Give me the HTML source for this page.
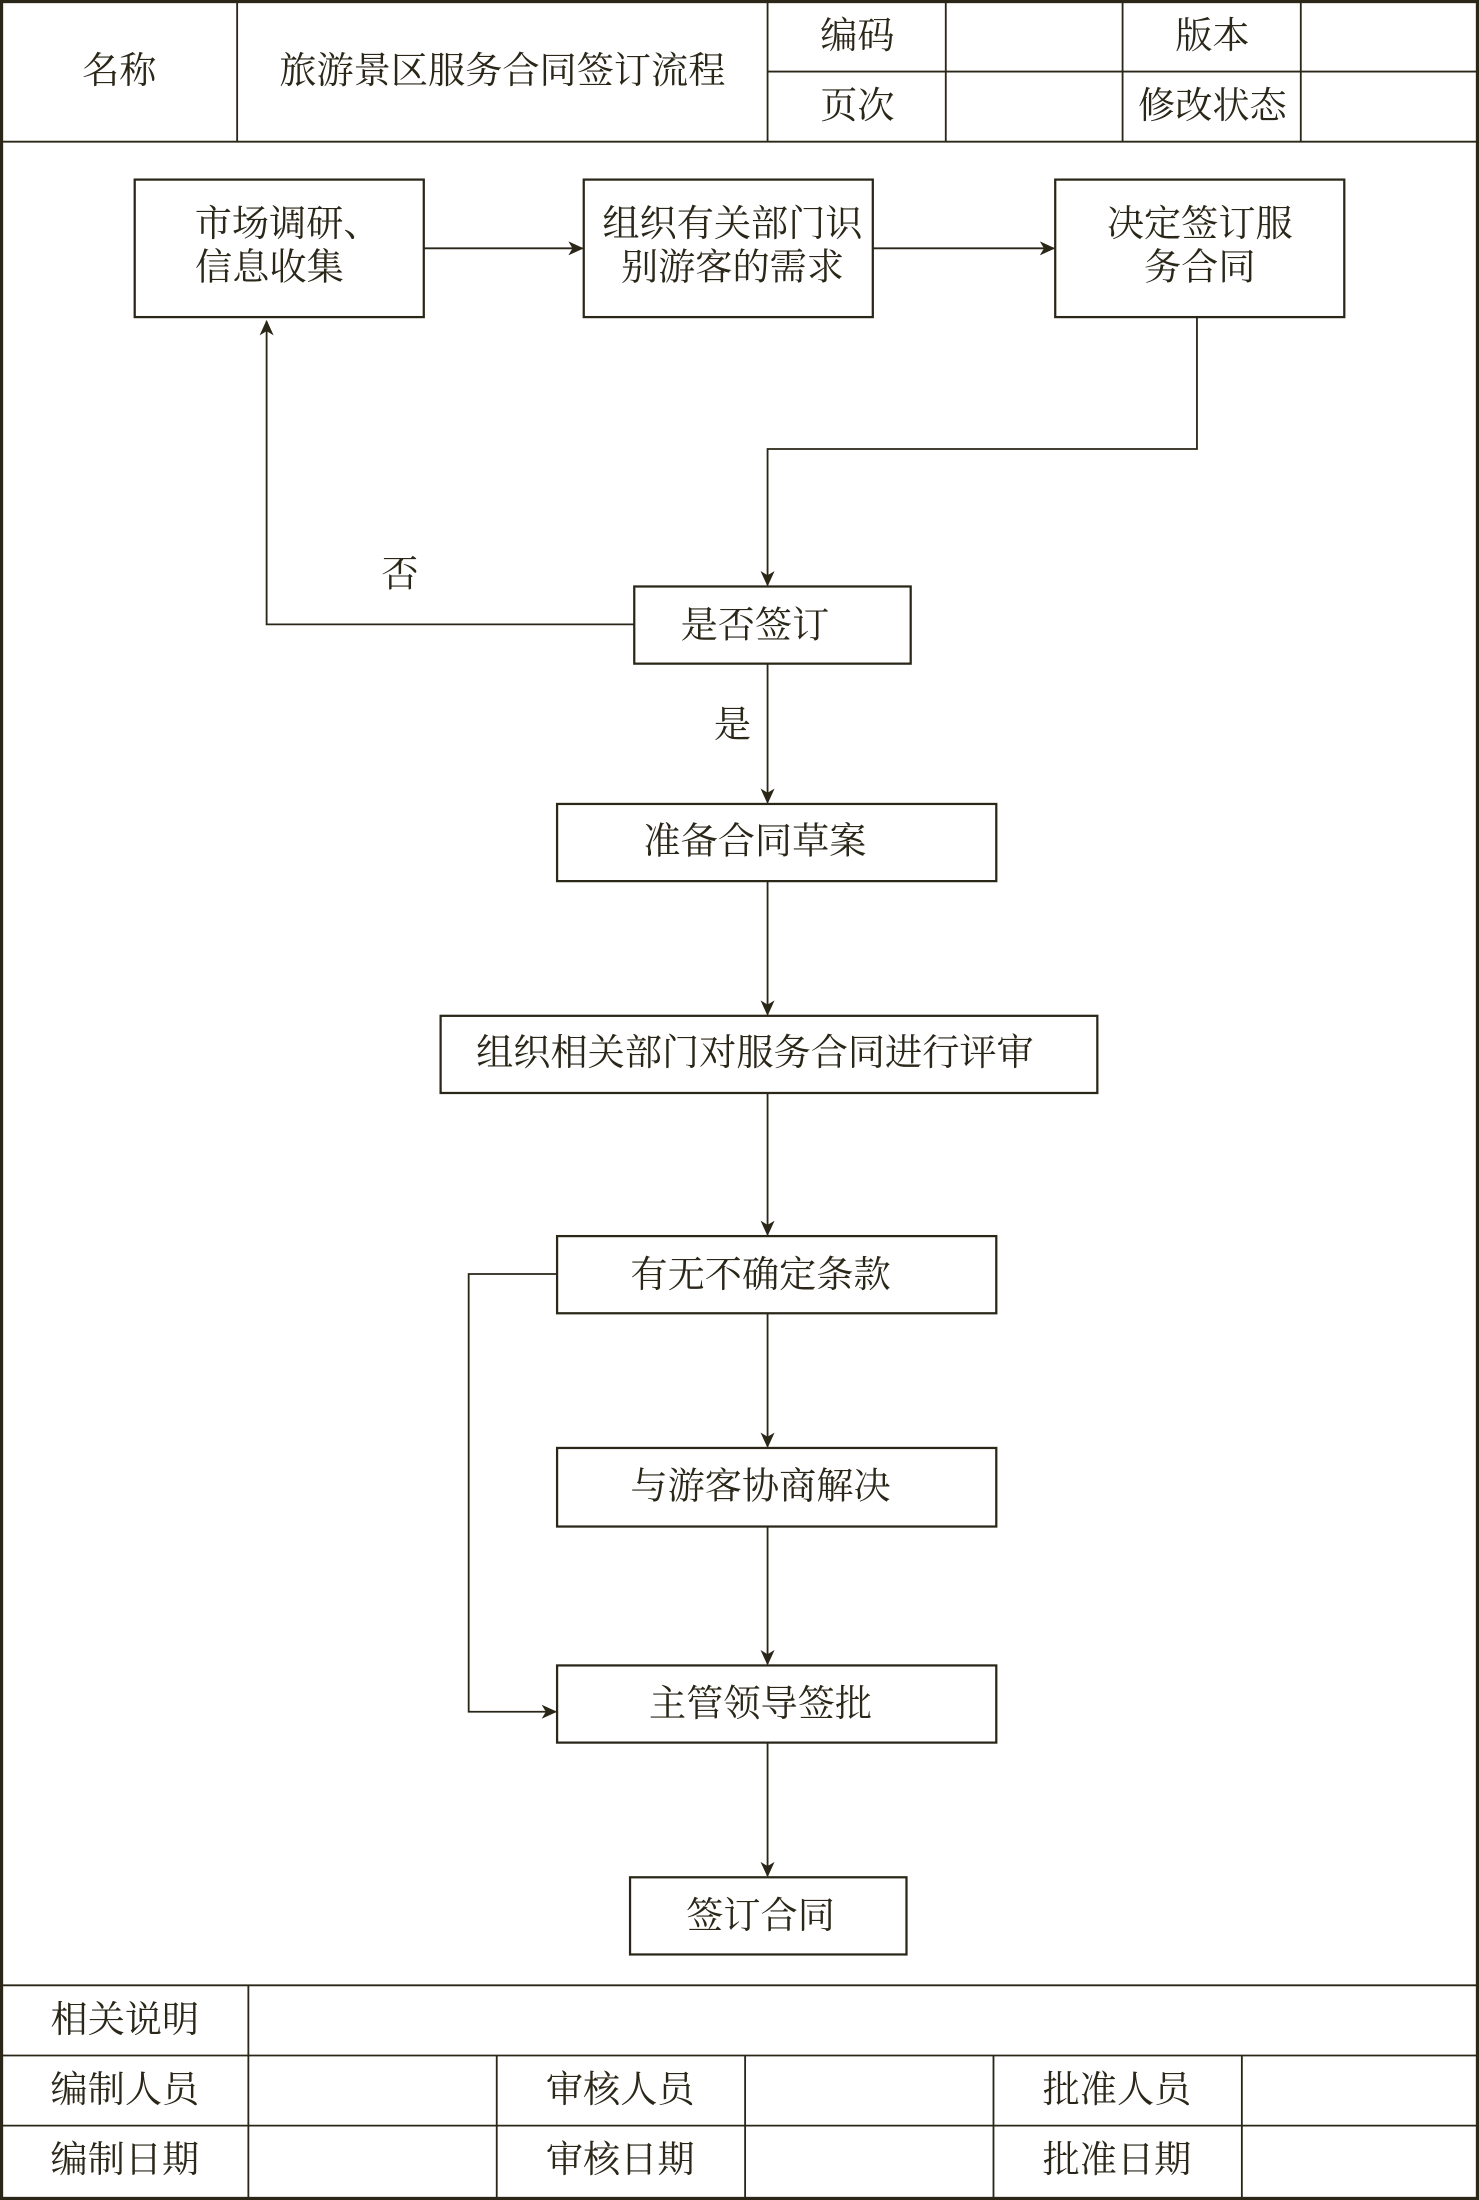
<!DOCTYPE html>
<html><head><meta charset="utf-8"><style>
html,body{margin:0;padding:0;background:#fff}
svg{display:block}
text{font-family:"Liberation Serif","Noto Serif CJK SC","Noto Sans CJK SC",serif;font-size:26.5px;fill:#2a2618}
</style></head><body>
<svg width="1479" height="2200" viewBox="0 0 1054 1568" preserveAspectRatio="none" xmlns="http://www.w3.org/2000/svg">
<defs><marker id="a" markerWidth="12" markerHeight="12" refX="10" refY="5" orient="auto" markerUnits="userSpaceOnUse"><path d="M0,0 L11,5 L0,10 L3,5 Z" fill="#2a2618"/></marker></defs>
<g stroke="#2a2618" fill="none" stroke-width="1.3">
<rect x="1" y="1" width="1052" height="1566" stroke-width="2.5"/>
<line x1="0" y1="101" x2="1054" y2="101"/>
<line x1="169" y1="0" x2="169" y2="101"/>
<line x1="547" y1="0" x2="547" y2="101"/>
<line x1="674" y1="0" x2="674" y2="101"/>
<line x1="800" y1="0" x2="800" y2="101"/>
<line x1="927" y1="0" x2="927" y2="101"/>
<line x1="547" y1="51" x2="1054" y2="51"/>
<line x1="0" y1="1415" x2="1054" y2="1415"/>
<line x1="0" y1="1465" x2="1054" y2="1465"/>
<line x1="0" y1="1515" x2="1054" y2="1515"/>
<line x1="177" y1="1415" x2="177" y2="1568"/>
<line x1="354" y1="1465" x2="354" y2="1568"/>
<line x1="531" y1="1465" x2="531" y2="1568"/>
<line x1="708" y1="1465" x2="708" y2="1568"/>
<line x1="885" y1="1465" x2="885" y2="1568"/>
<g stroke-width="1.6">
<rect x="96" y="128" width="206" height="98"/>
<rect x="416" y="128" width="206" height="98"/>
<rect x="752" y="128" width="206" height="98"/>
<rect x="452" y="418" width="197" height="55"/>
<rect x="397" y="573" width="313" height="55"/>
<rect x="314" y="724" width="468" height="55"/>
<rect x="397" y="881" width="313" height="55"/>
<rect x="397" y="1032" width="313" height="56"/>
<rect x="397" y="1187" width="313" height="55"/>
<rect x="449" y="1338" width="197" height="55"/>
</g>
<line x1="302" y1="177" x2="415" y2="177" marker-end="url(#a)"/>
<line x1="622" y1="177" x2="751" y2="177" marker-end="url(#a)"/>
<polyline points="853,226 853,320 547,320 547,417" marker-end="url(#a)"/>
<polyline points="452,445 190,445 190,229" marker-end="url(#a)"/>
<line x1="547" y1="473" x2="547" y2="572" marker-end="url(#a)"/>
<line x1="547" y1="628" x2="547" y2="723" marker-end="url(#a)"/>
<line x1="547" y1="779" x2="547" y2="880" marker-end="url(#a)"/>
<line x1="547" y1="936" x2="547" y2="1031" marker-end="url(#a)"/>
<line x1="547" y1="1088" x2="547" y2="1186" marker-end="url(#a)"/>
<line x1="547" y1="1242" x2="547" y2="1337" marker-end="url(#a)"/>
<polyline points="397,908 334,908 334,1220 396,1220" marker-end="url(#a)"/>
</g>
<g text-anchor="middle" dominant-baseline="central">
<text x="85" y="51">名称</text>
<text x="358" y="51">旅游景区服务合同签订流程</text>
<text x="611" y="26">编码</text>
<text x="864" y="26">版本</text>
<text x="611" y="76">页次</text>
<text x="864" y="76">修改状态</text>
<text x="205" y="160">市场调研、</text>
<text x="192" y="191">信息收集</text>
<text x="522" y="160">组织有关部门识</text>
<text x="522" y="191">别游客的需求</text>
<text x="855" y="160">决定签订服</text>
<text x="855" y="191">务合同</text>
<text x="285" y="410">否</text>
<text x="538" y="446">是否签订</text>
<text x="522" y="517">是</text>
<text x="538" y="600">准备合同草案</text>
<text x="538" y="751">组织相关部门对服务合同进行评审</text>
<text x="542" y="909">有无不确定条款</text>
<text x="542" y="1060">与游客协商解决</text>
<text x="542" y="1215">主管领导签批</text>
<text x="542" y="1366">签订合同</text>
<text x="89" y="1440">相关说明</text>
<text x="89" y="1490">编制人员</text>
<text x="442" y="1490">审核人员</text>
<text x="796" y="1490">批准人员</text>
<text x="89" y="1540">编制日期</text>
<text x="442" y="1540">审核日期</text>
<text x="796" y="1540">批准日期</text>
</g>
</svg>
</body></html>
